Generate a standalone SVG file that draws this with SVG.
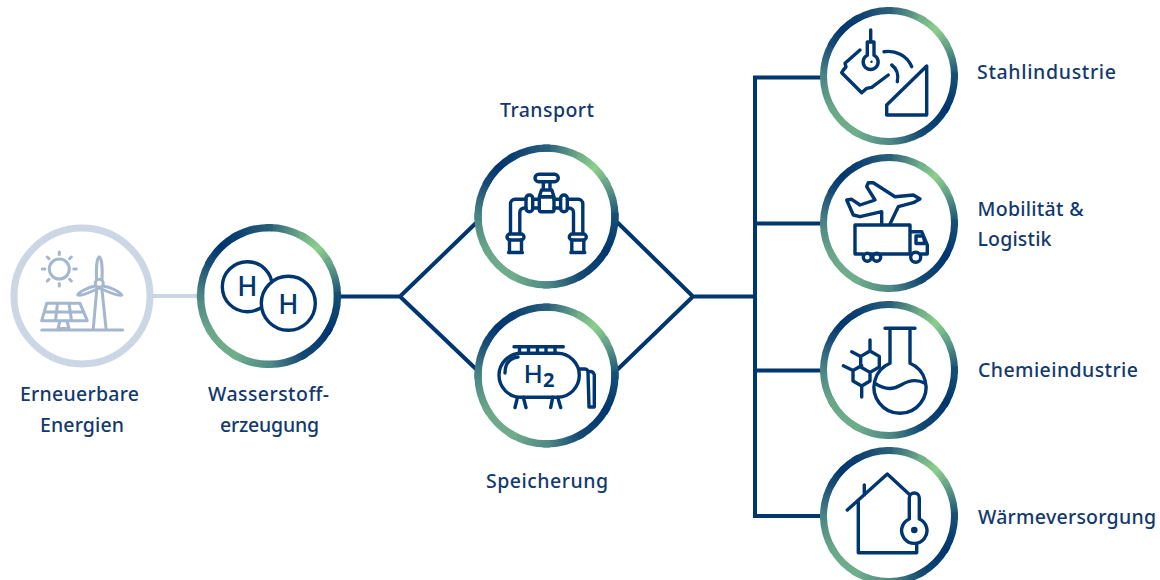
<svg xmlns="http://www.w3.org/2000/svg" xmlns:xlink="http://www.w3.org/1999/xlink" width="1160" height="580" viewBox="0 0 1160 580">
<style>
.seg{fill:none;stroke-width:7;stroke-linecap:square}
.ln{fill:none;stroke:#003670;stroke-width:4;stroke-linecap:butt;stroke-linejoin:miter}
.ic{fill:none;stroke:#003670;stroke-width:3.4;stroke-linecap:round;stroke-linejoin:round}
.icw{fill:#fff;stroke:#003670;stroke-width:3.4;stroke-linecap:round;stroke-linejoin:round}
.soft{fill:none;stroke:#a5b6cf;stroke-width:3;stroke-linecap:round;stroke-linejoin:round}
.softw{fill:#fff;stroke:#a5b6cf;stroke-width:3;stroke-linecap:round;stroke-linejoin:round}
text{font-family:"Noto Sans","Liberation Sans",sans-serif;font-size:19.5px;font-weight:500;fill:#12396f}
.m{text-anchor:middle}
.h{font-size:27px;text-anchor:middle;fill:#003670}
</style>
<defs>
<linearGradient id="g0" gradientUnits="userSpaceOnUse" x1="0" y1="-65.500" x2="32.750" y2="-56.700"><stop offset="0" stop-color="#2a5f7a"/><stop offset="1" stop-color="#72b088"/></linearGradient>
<linearGradient id="g1" gradientUnits="userSpaceOnUse" x1="32.750" y1="-56.700" x2="56.700" y2="-32.750"><stop offset="0" stop-color="#72b088"/><stop offset=".5" stop-color="#8ccf8c"/><stop offset="1" stop-color="#6baa89"/></linearGradient>
<linearGradient id="g2" gradientUnits="userSpaceOnUse" x1="56.700" y1="-32.750" x2="65.500" y2="0"><stop offset="0" stop-color="#6baa89"/><stop offset="1" stop-color="#164f75"/></linearGradient>
<linearGradient id="g3" gradientUnits="userSpaceOnUse" x1="65.500" y1="0" x2="56.700" y2="32.750"><stop offset="0" stop-color="#164f75"/><stop offset="1" stop-color="#003670"/></linearGradient>
<linearGradient id="g4" gradientUnits="userSpaceOnUse" x1="56.700" y1="32.750" x2="32.750" y2="56.700"><stop offset="0" stop-color="#003670"/><stop offset="1" stop-color="#134873"/></linearGradient>
<linearGradient id="g5" gradientUnits="userSpaceOnUse" x1="32.750" y1="56.700" x2="0" y2="65.500"><stop offset="0" stop-color="#134873"/><stop offset="1" stop-color="#4f8a85"/></linearGradient>
<linearGradient id="g6" gradientUnits="userSpaceOnUse" x1="0" y1="65.500" x2="-32.750" y2="56.700"><stop offset="0" stop-color="#4f8a85"/><stop offset="1" stop-color="#6fae8c"/></linearGradient>
<linearGradient id="g7" gradientUnits="userSpaceOnUse" x1="-32.750" y1="56.700" x2="-56.700" y2="32.750"><stop offset="0" stop-color="#6fae8c"/><stop offset="1" stop-color="#6aa78a"/></linearGradient>
<linearGradient id="g8" gradientUnits="userSpaceOnUse" x1="-56.700" y1="32.750" x2="-65.500" y2="0"><stop offset="0" stop-color="#6aa78a"/><stop offset="1" stop-color="#4a8585"/></linearGradient>
<linearGradient id="g9" gradientUnits="userSpaceOnUse" x1="-65.500" y1="0" x2="-56.700" y2="-32.750"><stop offset="0" stop-color="#4a8585"/><stop offset="1" stop-color="#174a76"/></linearGradient>
<linearGradient id="g10" gradientUnits="userSpaceOnUse" x1="-56.700" y1="-32.750" x2="-32.750" y2="-56.700"><stop offset="0" stop-color="#174a76"/><stop offset=".5" stop-color="#003670"/><stop offset="1" stop-color="#0a3e71"/></linearGradient>
<linearGradient id="g11" gradientUnits="userSpaceOnUse" x1="-32.750" y1="-56.700" x2="0" y2="-65.500"><stop offset="0" stop-color="#0a3e71"/><stop offset="1" stop-color="#2a5f7a"/></linearGradient>
<g id="ring">
<circle r="65.500" fill="#fff"/>
<path class="seg" stroke="url(#g0)" d="M0,-65.500A65.500,65.500 0 0 1 32.750,-56.700"/>
<path class="seg" stroke="url(#g1)" d="M32.750,-56.700A65.500,65.500 0 0 1 56.700,-32.750"/>
<path class="seg" stroke="url(#g2)" d="M56.700,-32.750A65.500,65.500 0 0 1 65.500,0"/>
<path class="seg" stroke="url(#g3)" d="M65.500,0A65.500,65.500 0 0 1 56.700,32.750"/>
<path class="seg" stroke="url(#g4)" d="M56.700,32.750A65.500,65.500 0 0 1 32.750,56.700"/>
<path class="seg" stroke="url(#g5)" d="M32.750,56.700A65.500,65.500 0 0 1 0,65.500"/>
<path class="seg" stroke="url(#g6)" d="M0,65.500A65.500,65.500 0 0 1 -32.750,56.700"/>
<path class="seg" stroke="url(#g7)" d="M-32.750,56.700A65.500,65.500 0 0 1 -56.700,32.750"/>
<path class="seg" stroke="url(#g8)" d="M-56.700,32.750A65.500,65.500 0 0 1 -65.500,0"/>
<path class="seg" stroke="url(#g9)" d="M-65.500,0A65.500,65.500 0 0 1 -56.700,-32.750"/>
<path class="seg" stroke="url(#g10)" d="M-56.700,-32.750A65.500,65.500 0 0 1 -32.750,-56.700"/>
<path class="seg" stroke="url(#g11)" d="M-32.750,-56.700A65.500,65.500 0 0 1 0,-65.500"/>
</g>
<g id="pipeHalf">
<path class="ic" d="M526,199.300H515a4.500,4.500 0 0 0-4.500,4.500V233.500M519.800,233.500V212.500a4.500,4.500 0 0 1 4.500-4.500H526"/>
<rect class="ic" x="526" y="195" width="6.700" height="16.700" rx="3.300"/>
<rect class="ic" x="507" y="234" width="17" height="6" rx="3"/>
<path class="ic" d="M509.500,240V252.500M521.500,240V252.500M508.500,252.500H522.500"/>
<path class="ic" d="M532.700,199.300H539.300M532.700,208H539.300"/>
</g>
</defs>

<g id="connectors">
<path d="M153,296H197" fill="none" stroke="#ccd7e5" stroke-width="4"/>
<path class="ln" d="M341,296.500H400L477,222M400,296.500L477,370M617,222L693,296.500L617,370M693,296.500H755M822,77.500H755V516H822M755,223.500H822M755,370.500H822"/>
</g>

<g id="node-erneuerbare">
<circle cx="82" cy="296" r="68" fill="#fff" stroke="#ccd7e5" stroke-width="7"/>
<circle class="soft" cx="59.300" cy="269" r="10"/>
<path class="soft" d="M59.300,252V254.500M59.300,283.500V286M42.300,269H44.800M73.800,269H76.300M47.300,257L49,258.700M69.600,279.300L71.300,281M47.300,281L49,279.300M69.600,258.700L71.300,257"/>
<path class="soft" d="M97,287L93.300,328.300M101.700,287L106,328.300M41.700,330H122.700"/>
<path class="softw" d="M96.500,279.500C96,268 97,258 99.300,256.700C101.600,258 102.600,268 102,279.500"/>
<path class="softw" d="M102.500,286C111,287 120,292 121.700,295C118,296.500 108,292 99.500,288"/>
<path class="softw" d="M96,286C88,287 79,292 77.700,295C81,296.500 91,292 99,288"/>
<circle class="softw" cx="99.300" cy="283.300" r="4"/>
<path class="soft" d="M46.700,303.300H80L87.300,320.700H41.700ZM44.500,312H84M57.500,303.300L55.500,320.700M69,303.300L71.500,320.700M60,321L58,328.500H69L67,321"/>
</g>

<g id="node-wasserstoff">
<use xlink:href="#ring" href="#ring" transform="translate(269,296) scale(1.045)"/>
<circle class="icw" cx="247.300" cy="286.700" r="25"/>
<circle class="icw" cx="288.300" cy="303.300" r="27"/>
<text class="h" x="247.300" y="296">H</text>
<text class="h" x="288.300" y="313.500">H</text>
</g>

<g id="node-transport">
<use xlink:href="#ring" href="#ring" transform="translate(546.500,216.500) scale(1.045)"/>
<rect class="ic" x="535" y="174.300" width="23.300" height="7.400" rx="3.700"/>
<path class="ic" d="M543.300,181.700V190M550,181.700V190M541.500,190H551.800L554,196.700H539.300Z"/>
<rect class="ic" x="539.300" y="196.700" width="14.700" height="15" rx="2"/>
<use xlink:href="#pipeHalf" href="#pipeHalf"/>
<use xlink:href="#pipeHalf" href="#pipeHalf" transform="translate(1093.300,0) scale(-1,1)"/>
</g>

<g id="node-speicherung">
<use xlink:href="#ring" href="#ring" transform="translate(546.500,375.500) scale(1.045)"/>
<path class="ic" d="M514,346.700H563.300M519.500,347V353M528.500,347V353M537.500,347V353M546,347V353M555,347V353"/>
<rect class="ic" x="499" y="353.300" width="80.300" height="44" rx="22"/>
<path class="ic" d="M505,373C505,363 510,358 518,357M517.500,397.300L515,407.500M523.300,397.300L526,407.500M552.700,397.300L550.700,407.500M557.700,397.300L560.700,407.500"/>
<path class="ic" d="M579,369H585A3,3 0 0 1 588,372.500L589,407H594.300L594.300,375A4,4 0 0 0 590,371.500"/>
<text x="523.500" y="383" style="font-size:26px;fill:#003670">H<tspan dy="4" style="font-size:20px;font-weight:700">2</tspan></text>
</g>

<g id="node-stahl">
<use xlink:href="#ring" href="#ring" transform="translate(889,76)"/>
<path class="ic" d="M860,50L845,63.300L846,67L843.300,70L841.700,72.700L861.700,92.700L866.700,88.300L871.700,87.300L888.300,75"/>
<path class="ic" d="M884,51.700C895,50 907,55 911.700,66.700M891.700,65C896,68 899,74 897.300,81.700"/>
<path class="ic" d="M926.700,66V115H886.700V105Z"/>
<path class="ic" d="M870.700,30V41M867.300,42H874L874,55.300A7.500,7.500 0 1 1 867.300,55.300Z"/>
<circle cx="871.500" cy="61.700" r="1.200" fill="#003670"/>
</g>

<g id="node-mobilitaet">
<use xlink:href="#ring" href="#ring" transform="translate(889,223)"/>
<path class="ic" d="M881.700,224V211.700L860,216.700L853.300,215L846.700,200L851.700,199.300L860,205L875,200L866.700,186.700L868.300,182.700H873.300L895,196.700L913.300,195L920,199L913.300,202.700L898.300,206.700L890,224"/>
<path class="ic" d="M863,254H855V225H910V254H870M880.500,254H911.700M911.700,231.700H921.700L927.300,245V254H921M916,236H923.300L925,243.500H916Z"/>
<circle class="ic" cx="867.300" cy="257.300" r="4"/>
<circle class="ic" cx="876.700" cy="257.300" r="4"/>
<circle class="ic" cx="915.700" cy="257.300" r="5"/>
</g>

<g id="node-chemie">
<use xlink:href="#ring" href="#ring" transform="translate(889,370)"/>
<path class="ic" d="M870,351L879.300,356.400V367L870,372.400L860.700,367V356.400ZM861.700,365.500L853,370.500V381L861.700,386L870,381V372M870,340V351M851.700,351.700L860.700,356.400M843.300,365.700L853,370.500M861.700,386V397"/>
<path class="icw" d="M885,328.300H915M890,328.300V363.300A26,26 0 1 0 910,363.300V328.300"/>
<path class="ic" d="M875,383.300C885,390 893,390 901,385C909,380 917,379 925,383.300"/>
</g>

<g id="node-waerme">
<use xlink:href="#ring" href="#ring" transform="translate(889,516)"/>
<path class="ic" d="M847.300,510L887.300,474L910,495M864.300,485V495M858.300,502V552.700H916.700V543.300"/>
<path class="icw" d="M909.300,519V498A5,5 0 0 1 919.300,498V519A12.700,12.700 0 1 1 909.300,519Z"/>
<circle cx="914.300" cy="530" r="3.300" fill="#003670"/>
</g>

<g id="labels">
<text class="m" x="79.500" y="401" textLength="119">Erneuerbare</text>
<text class="m" x="82" y="432" textLength="84">Energien</text>
<text class="m" x="268.500" y="401" textLength="121">Wasserstoff-</text>
<text class="m" x="269.500" y="432" textLength="99">erzeugung</text>
<text class="m" x="547" y="117" textLength="94">Transport</text>
<text class="m" x="547" y="488" textLength="122">Speicherung</text>
<text x="977" y="79" textLength="139">Stahlindustrie</text>
<text x="977.500" y="216" textLength="106">Mobilität &amp;</text>
<text x="977.500" y="246" textLength="74">Logistik</text>
<text x="978" y="377" textLength="160">Chemieindustrie</text>
<text x="978" y="524" textLength="178">Wärmeversorgung</text>
</g>
</svg>
